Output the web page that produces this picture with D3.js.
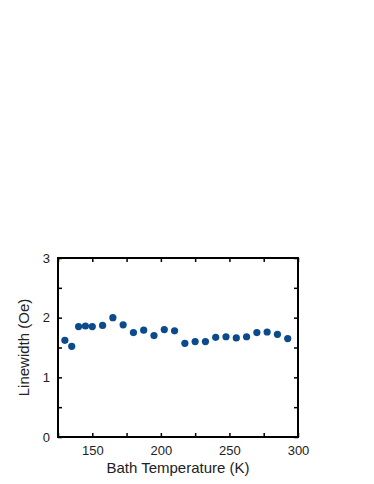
<!DOCTYPE html>
<html>
<head>
<meta charset="utf-8">
<script src="https://cdn.jsdelivr.net/npm/d3@7"></script>
<style>
  body { margin: 0; background: #fff; }
  svg { display: block; }
</style>
</head>
<body>
<div id="chart"></div>
<script>
const temperature = [130, 135, 140, 145, 150, 157.5, 165, 172.5, 180, 187.5, 195, 202.5,
    210, 217.5, 225, 232.5, 240, 247.5, 255, 262.5, 270, 277.5, 285, 292.5];
const linewidth = [1.62, 1.52, 1.85, 1.86, 1.85, 1.87, 2.00, 1.88, 1.75, 1.79, 1.70, 1.80,
    1.78, 1.57, 1.60, 1.60, 1.67, 1.68, 1.66, 1.68, 1.75, 1.76, 1.72, 1.65];
const xTickLabels = [150, 200, 250, 300];
const yTickLabels = [0, 1, 2, 3];

const width = 374, height = 484;
const margin = { left: 58, right: 76, top: 258, bottom: 47 };

const svg = d3.select("#chart")
    .append("svg")
    .attr("width", width)
    .attr("height", height);

const x = d3.scaleLinear().domain([125, 300]).range([margin.left, width - margin.right]);
const y = d3.scaleLinear().domain([0, 3]).range([height - margin.bottom, margin.top]);

const font = "'Liberation Sans', Arial, sans-serif";
const tickLen = 4;

// inward ticks on all four sides
const xTicks = d3.range(125, 301, 25);
const yTicks = d3.range(0, 3.01, 0.5);

const axisStyle = g => {
    g.select(".domain").remove();
    g.selectAll(".tick line").attr("stroke", "#000").attr("stroke-width", 1.5);
    g.selectAll(".tick text").attr("font-family", font).attr("font-size", 13).attr("fill", "#222");
};

svg.append("g")
    .attr("transform", `translate(0,${y(0)})`)
    .call(d3.axisBottom(x).tickValues(xTicks).tickSizeInner(-tickLen).tickPadding(9)
        .tickFormat(d => xTickLabels.includes(d) ? d : ""))
    .call(axisStyle);

svg.append("g")
    .attr("transform", `translate(0,${y(3)})`)
    .call(d3.axisTop(x).tickValues(xTicks).tickSizeInner(-tickLen).tickFormat(""))
    .call(axisStyle);

svg.append("g")
    .attr("transform", `translate(${x(125)},0)`)
    .call(d3.axisLeft(y).tickValues(yTicks).tickSizeInner(-tickLen).tickPadding(8)
        .tickFormat(d => yTickLabels.includes(d) ? d : ""))
    .call(axisStyle);

svg.append("g")
    .attr("transform", `translate(${x(300)},0)`)
    .call(d3.axisRight(y).tickValues(yTicks).tickSizeInner(-tickLen).tickFormat(""))
    .call(axisStyle);

// frame
svg.append("rect")
    .attr("x", x(125))
    .attr("y", y(3))
    .attr("width", x(300) - x(125))
    .attr("height", y(0) - y(3))
    .attr("fill", "none")
    .attr("stroke", "#000")
    .attr("stroke-width", 2);

// points
svg.append("g")
    .selectAll("circle")
    .data(temperature.map((t, i) => ({ t, w: linewidth[i] })))
    .enter()
    .append("circle")
    .attr("cx", d => x(d.t))
    .attr("cy", d => y(d.w))
    .attr("r", 3.6)
    .attr("fill", "#0b4a8b");

// axis titles
svg.append("text")
    .attr("x", (x(125) + x(300)) / 2)
    .attr("y", 473)
    .attr("text-anchor", "middle")
    .attr("font-family", font)
    .attr("font-size", 15)
    .attr("fill", "#222")
    .text("Bath Temperature (K)");

svg.append("text")
    .attr("transform", `translate(29,${(y(0) + y(3)) / 2}) rotate(-90)`)
    .attr("text-anchor", "middle")
    .attr("font-family", font)
    .attr("font-size", 15)
    .attr("fill", "#222")
    .text("Linewidth (Oe)");
</script>
</body>
</html>
